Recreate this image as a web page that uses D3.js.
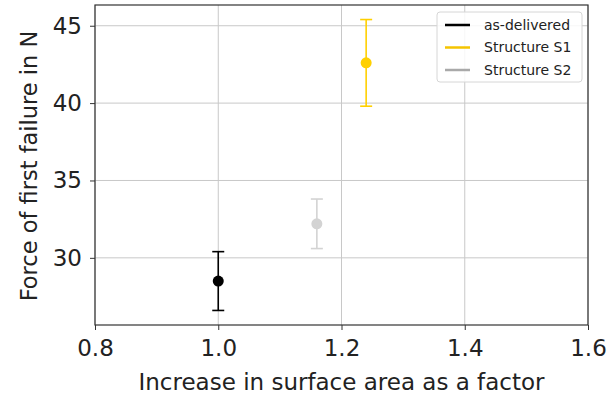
<!DOCTYPE html>
<html>
<head>
<meta charset="utf-8">
<script src="https://cdn.jsdelivr.net/npm/d3@7"></script>
<style>
  body { margin: 0; background: #fff; }
  text { font-family: "DejaVu Sans", sans-serif; }
</style>
</head>
<body>
<div class="chart"></div>
<script>
// data
const series = ["as-delivered", "Structure S1", "Structure S2"];
const factor = [1.0, 1.24, 1.16];
const force = [28.5, 42.6, 32.2];
const spread = [1.9, 2.8, 1.6];
const pointColors = ["#000000", "#ffd000", "#d3d3d3"];
const legendColors = ["#000000", "#f5c400", "#a9a9a9"];
const xTicks = [0.8, 1.0, 1.2, 1.4, 1.6];
const yTicks = [30, 35, 40, 45];

const margin = {top: 5, left: 95, right: 23, bottom: 71};
const width = 611 - margin.left - margin.right;
const height = 396 - margin.top - margin.bottom;

const svg = d3.select(".chart").append("svg")
    .attr("width", 611)
    .attr("height", 396)
    .append("g")
    .attr("transform", "translate(" + margin.left + "," + margin.top + ")");

const xScale = d3.scaleLinear().domain([0.8, 1.6]).range([0, width]);
const yScale = d3.scaleLinear().domain([25.66, 46.34]).range([height, 0]);

// grid
svg.append("g").selectAll("line").data(xTicks).enter().append("line")
    .attr("x1", d => xScale(d)).attr("x2", d => xScale(d))
    .attr("y1", 0).attr("y2", height)
    .attr("stroke", "#c8c8c8").attr("stroke-width", 1);
svg.append("g").selectAll("line").data(yTicks).enter().append("line")
    .attr("y1", d => yScale(d)).attr("y2", d => yScale(d))
    .attr("x1", 0).attr("x2", width)
    .attr("stroke", "#c8c8c8").attr("stroke-width", 1);

// axes
const xAxis = d3.axisBottom(xScale).tickValues(xTicks).tickFormat(d3.format(".1f")).tickSizeOuter(0).tickSize(5).tickPadding(10);
const yAxis = d3.axisLeft(yScale).tickValues(yTicks).tickFormat(d3.format("d")).tickSizeOuter(0).tickSize(5).tickPadding(8);

svg.append("g").attr("class", "x-axis")
    .attr("transform", `translate(0, ${height})`)
    .call(xAxis);
svg.append("g").attr("class", "y-axis").call(yAxis);

svg.selectAll(".x-axis text, .y-axis text")
    .attr("font-size", 23).attr("fill", "#222")
    .style("font-family", "DejaVu Sans, sans-serif");
svg.selectAll(".x-axis line, .y-axis line").attr("stroke", "#333");
svg.selectAll(".domain").remove();

// frame
svg.append("rect")
    .attr("width", width).attr("height", height)
    .attr("fill", "none").attr("stroke", "#333").attr("stroke-width", 1.2);

// error bars
const data = series.map((s, i) => ({name: s, x: factor[i], y: force[i], e: spread[i], c: pointColors[i]}));
const cap = 6;

const bars = svg.append("g").selectAll("g").data(data).enter().append("g");
bars.append("line")
    .attr("x1", d => xScale(d.x)).attr("x2", d => xScale(d.x))
    .attr("y1", d => yScale(d.y - d.e)).attr("y2", d => yScale(d.y + d.e))
    .attr("stroke", d => d.c).attr("stroke-width", 1.6);
bars.append("line")
    .attr("x1", d => xScale(d.x) - cap).attr("x2", d => xScale(d.x) + cap)
    .attr("y1", d => yScale(d.y + d.e)).attr("y2", d => yScale(d.y + d.e))
    .attr("stroke", d => d.c).attr("stroke-width", 1.6);
bars.append("line")
    .attr("x1", d => xScale(d.x) - cap).attr("x2", d => xScale(d.x) + cap)
    .attr("y1", d => yScale(d.y - d.e)).attr("y2", d => yScale(d.y - d.e))
    .attr("stroke", d => d.c).attr("stroke-width", 1.6);
bars.append("circle")
    .attr("cx", d => xScale(d.x)).attr("cy", d => yScale(d.y))
    .attr("r", 5.5).attr("fill", d => d.c);

// axis labels
svg.append("text")
    .attr("x", width / 2).attr("y", height + 65)
    .attr("text-anchor", "middle").attr("font-size", 23).attr("fill", "#222")
    .text("Increase in surface area as a factor");
svg.append("text")
    .attr("transform", `translate(${-58}, ${height / 2 + 1}) rotate(-90)`)
    .attr("text-anchor", "middle").attr("font-size", 22.5).attr("fill", "#222")
    .text("Force of first failure in N");

// legend
const legend = svg.append("g").attr("transform", `translate(${437 - margin.left}, ${12 - margin.top})`);
legend.append("rect")
    .attr("width", 145).attr("height", 70).attr("rx", 3)
    .attr("fill", "#fff").attr("fill-opacity", 0.85)
    .attr("stroke", "#d6d6d6");
const items = legend.selectAll("g.item").data(series).enter().append("g")
    .attr("transform", (d, i) => `translate(0, ${13 + i * 22.5})`);
items.append("line")
    .attr("x1", 8).attr("x2", 33)
    .attr("stroke", (d, i) => legendColors[i]).attr("stroke-width", 2.5);
items.append("text")
    .attr("x", 47).attr("dy", "0.35em")
    .attr("font-size", 14).attr("fill", "#222")
    .text(d => d);
</script>
</body>
</html>
